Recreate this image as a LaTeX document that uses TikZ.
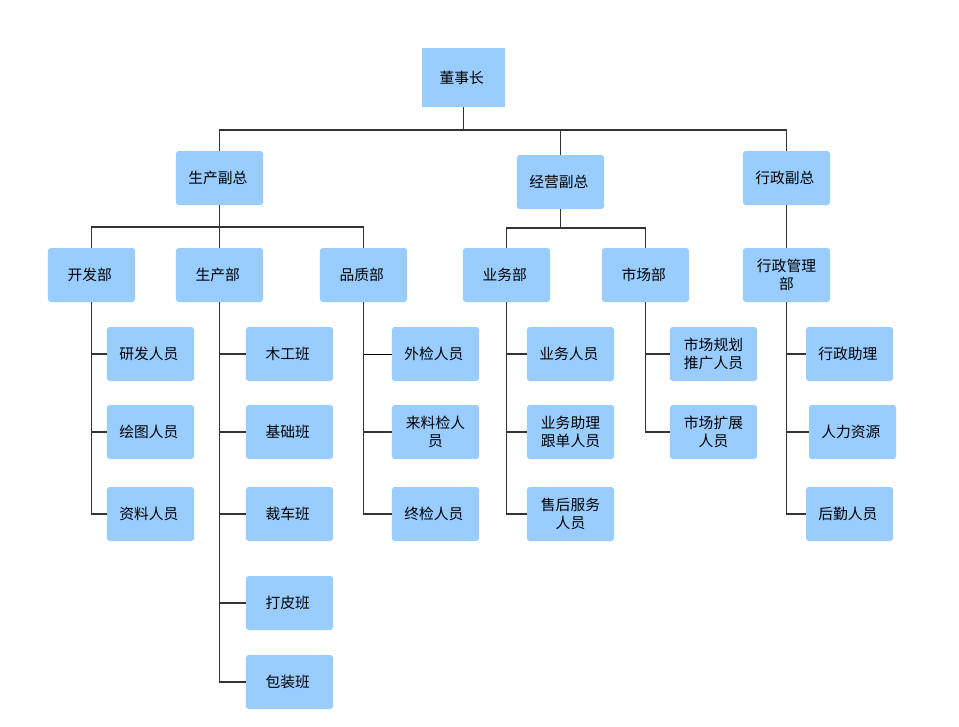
\documentclass[tikz,border=0pt]{standalone}
\usepackage{fontspec}
\setmainfont{Noto Sans CJK SC}
\usetikzlibrary{positioning}
\definecolor{boxblue}{HTML}{99CCFF}
\colorlet{linkgrey}{black!80}
\tikzset{unit/.style={draw=none, fill=boxblue, rounded corners=2pt, minimum width=2.175cm, minimum height=1.35cm, inner sep=0pt, align=center, font=\fontsize{10.5}{13}\selectfont}}
\tikzset{unittop/.style={unit, rounded corners=0pt, minimum width=2.075cm, minimum height=1.475cm}}
\tikzset{link/.style={draw=linkgrey, line width=0.9pt}}
\tikzset{thinlink/.style={draw=black, line width=0.5pt}}

\begin{document}
\begin{tikzpicture}[x=0.025cm, y=-0.025cm]
            \useasboundingbox (0, 0) rectangle (959, 726);

            \node [unittop] (Top) at (463.5, 77.5) { 董事长 };

            \node [unit] (Vsc) at (219.5, 178) { 生产副总 };
            \node [unit] (Vjy) at (560.5, 182) { 经营副总 };
            \node [unit] (Vxz) at (786.5, 178) { 行政副总 };

            \node [unit] (Dkf) at (91.5, 275) { 开发部 };
            \node [unit] (Dsc) at (219.5, 275) { 生产部 };
            \node [unit] (Dpz) at (363.5, 275) { 品质部 };
            \node [unit] (Dyw) at (506.5, 275) { 业务部 };
            \node [unit] (Dsch) at (645.5, 275) { 市场部 };
            \node [unit] (Dxz) at (786.5, 275) { 行政管理\\部 };

            \node [unit] (K1) at (150.5, 354) { 研发人员 };
            \node [unit] (K2) at (150.5, 432) { 绘图人员 };
            \node [unit] (K3) at (150.5, 514) { 资料人员 };

            \node [unit] (S1) at (289.5, 354) { 木工班 };
            \node [unit] (S2) at (289.5, 432) { 基础班 };
            \node [unit] (S3) at (289.5, 514) { 裁车班 };
            \node [unit] (S4) at (289.5, 603) { 打皮班 };
            \node [unit] (S5) at (289.5, 682) { 包装班 };

            \node [unit] (P1) at (435.5, 354) { 外检人员 };
            \node [unit] (P2) at (435.5, 432) { 来料检人\\员 };
            \node [unit] (P3) at (435.5, 514) { 终检人员 };

            \node [unit] (Y1) at (570.5, 354) { 业务人员 };
            \node [unit] (Y2) at (570.5, 432) { 业务助理\\跟单人员 };
            \node [unit] (Y3) at (570.5, 514) { 售后服务\\人员 };

            \node [unit] (M1) at (713.5, 354) { 市场规划\\推广人员 };
            \node [unit] (M2) at (713.5, 432) { 市场扩展\\人员 };

            \node [unit] (X1) at (849.5, 354) { 行政助理 };
            \node [unit] (X2) at (852.5, 432) { 人力资源 };
            \node [unit] (X3) at (849.5, 514) { 后勤人员 };

            % top level
            \coordinate (TopBus) at (463.5, 130);
            \draw [link] (Top) -- (TopBus);
            \draw [link] (TopBus) -| (Vsc);
            \draw [link] (TopBus) -| (Vjy);
            \draw [link] (TopBus) -| (Vxz);

            % vice presidents
            \coordinate (ScBus) at (219.5, 227);
            \draw [link] (Vsc) -- (ScBus);
            \draw [link] (ScBus) -| (Dkf);
            \draw [link] (ScBus) -| (Dsc);
            \draw [link] (ScBus) -| (Dpz);

            \coordinate (JyBus) at (560.5, 228);
            \draw [link] (Vjy) -- (JyBus);
            \draw [link] (JyBus) -| (Dyw);
            \draw [link] (JyBus) -| (Dsch);

            \draw [link] (Vxz) -- (Dxz);

            % departments
            \draw [link] (Dkf.south) |- (K1.west);
            \draw [link] (Dkf.south) |- (K2.west);
            \draw [link] (Dkf.south) |- (K3.west);

            \draw [link] (Dsc.south) |- (S1.west);
            \draw [link] (Dsc.south) |- (S2.west);
            \draw [link] (Dsc.south) |- (S3.west);
            \draw [link] (Dsc.south) |- (S4.west);
            \draw [link] (Dsc.south) |- (S5.west);

            \draw [link] (Dpz.south) |- (P3.west);
            \draw [thinlink] (Dpz.south |- P1.west) -- (P1.west);
            \draw [link] (Dpz.south |- P2.west) -- (P2.west);

            \draw [link] (Dyw.south) |- (Y1.west);
            \draw [link] (Dyw.south) |- (Y2.west);
            \draw [link] (Dyw.south) |- (Y3.west);

            \draw [link] (Dsch.south) |- (M1.west);
            \draw [link] (Dsch.south) |- (M2.west);

            \draw [link] (Dxz.south) |- (X1.west);
            \draw [link] (Dxz.south) |- (X2.west);
            \draw [link] (Dxz.south) |- (X3.west);
        \end{tikzpicture}
\end{document}
